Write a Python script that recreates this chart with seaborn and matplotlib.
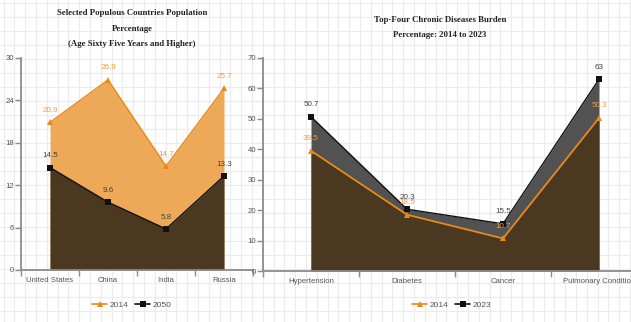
import numpy as np
import pandas as pd
import matplotlib
matplotlib.use("Agg")
import matplotlib.pyplot as plt
from matplotlib.lines import Line2D
import seaborn as sns

# Population aged 65+ (%)
countries = ["United States", "China", "India", "Russia"]
elderly_2014 = [20.9, 26.9, 14.7, 25.7]
elderly_2050 = [14.5, 9.6, 5.8, 13.3]

# Chronic disease burden (%)
diseases = ["Hypertension", "Diabetes", "Cancer", "Pulmonary Condition"]
burden_2014 = [39.5, 18.5, 10.7, 50.3]
burden_2023 = [50.7, 20.3, 15.5, 63]

sns.set_theme(style="white")
plt.rcParams["font.family"] = ["Liberation Sans", "DejaVu Sans"]

W, H = 631, 322
fig = plt.figure(figsize=(W / 100, H / 100), dpi=100)

ORANGE_FILL = "#EDA957"
ORANGE_LINE = "#E8891A"
ORANGE_TEXT = "#EE9E3A"
BROWN = "#4A3820"
GRAY_FILL = "#525252"
AXIS_GRAY = "#8c8c8c"
TEXT_GRAY = "#555555"

# graph-paper backdrop
bg = fig.add_axes([0, 0, 1, 1], zorder=-10)
bg.set_xlim(0, W)
bg.set_ylim(H, 0)
bg.vlines(np.arange(3.5, W, 10.8), 0, H, color="#ebebeb", lw=0.8)
bg.hlines(np.arange(3, H, 14), 0, W, color="#ebebeb", lw=0.8)
bg.axis("off")


def px_axes(left, top, width, bottom):
    return fig.add_axes([left / W, (H - bottom) / H, width / W, (bottom - top) / H])


def style_axes(ax, cats, ymax, step):
    ax.set_facecolor("none")
    ax.set_xlim(-0.5, len(cats) - 0.5)
    ax.set_ylim(0, ymax)
    ax.set_yticks(np.arange(0, ymax + 0.1, step))
    ax.set_xticks(range(len(cats)))
    ax.set_xticklabels(cats)
    ax.set_xticks(np.arange(-0.5, len(cats), 1.0), minor=True)
    for s in ("top", "right"):
        ax.spines[s].set_visible(False)
    for s in ("left", "bottom"):
        ax.spines[s].set_color(AXIS_GRAY)
        ax.spines[s].set_linewidth(1.3)
    ax.tick_params(axis="y", which="major", left=True, length=4, width=1,
                   color=AXIS_GRAY, labelsize=5.6, labelcolor=TEXT_GRAY, pad=1)
    ax.tick_params(axis="x", which="major", bottom=False, length=0,
                   labelsize=5.6, labelcolor=TEXT_GRAY, pad=5)
    ax.tick_params(axis="x", which="minor", bottom=True, length=4, width=1,
                   color=AXIS_GRAY)
    ax.grid(False)
    ax.set_xlabel("")
    ax.set_ylabel("")


def series(ax, vals, fill, line, marker, msize, lw, text_color):
    x = np.arange(len(vals))
    ax.fill_between(x, vals, color=fill, lw=0, zorder=1)
    df = pd.DataFrame({"pos": x, "val": vals})
    sns.lineplot(data=df, x="pos", y="val", ax=ax, color=line, lw=lw,
                 marker=marker, markersize=msize, markeredgewidth=0,
                 markerfacecolor=line, zorder=3)
    for xi, v in zip(x, vals):
        ax.annotate(f"{v:g}", (xi, v), xytext=(0, 12), textcoords="offset pixels",
                    ha="center", va="center", fontsize=5.8, color=text_color,
                    zorder=5)


# ---- left panel: elderly population ----
axL = px_axes(21, 58, 232, 270)
series(axL, elderly_2014, ORANGE_FILL, ORANGE_LINE, "^", 4.5, 1.0, ORANGE_TEXT)
series(axL, elderly_2050, BROWN, "#111111", "s", 4, 1.0, "#444444")
style_axes(axL, countries, 30, 6)

# ---- right panel: chronic diseases ----
axR = px_axes(263, 58, 384, 271)
series(axR, burden_2023, GRAY_FILL, "#111111", "s", 4, 1.0, "#444444")
series(axR, burden_2014, BROWN, ORANGE_LINE, "^", 4.5, 1.3, ORANGE_TEXT)
style_axes(axR, diseases, 70, 10)

# titles
title_kw = dict(ha="center", va="center", fontsize=6.3, fontweight="bold",
                family=["Liberation Serif", "DejaVu Serif"], color="#222222")
fig.text(132 / W, 1 - 13 / H, "Selected Populous Countries Population", **title_kw)
fig.text(132 / W, 1 - 29 / H, "Percentage", **title_kw)
fig.text(132 / W, 1 - 44 / H, "(Age Sixty Five Years and Higher)", **title_kw)
fig.text(440 / W, 1 - 20 / H, "Top-Four Chronic Diseases Burden", **title_kw)
fig.text(440 / W, 1 - 35 / H, "Percentage: 2014 to 2023", **title_kw)


def legend_handles(labels):
    return [
        Line2D([], [], color=ORANGE_LINE, marker="^", markersize=5,
               markeredgewidth=0, lw=1.2, label=labels[0]),
        Line2D([], [], color="#111111", marker="s", markersize=5,
               markeredgewidth=0, lw=1.2, label=labels[1]),
    ]


leg_kw = dict(loc="center", ncol=2, frameon=False, fontsize=6,
              handlelength=1.8, handletextpad=0.3, columnspacing=0.8,
              labelcolor=TEXT_GRAY)
fig.legend(handles=legend_handles(["2014", "2050"]),
           bbox_to_anchor=(132 / W, 1 - 305 / H), **leg_kw)
fig.legend(handles=legend_handles(["2014", "2023"]),
           bbox_to_anchor=(452 / W, 1 - 305 / H), **leg_kw)

fig.savefig("out.png", dpi=100)
